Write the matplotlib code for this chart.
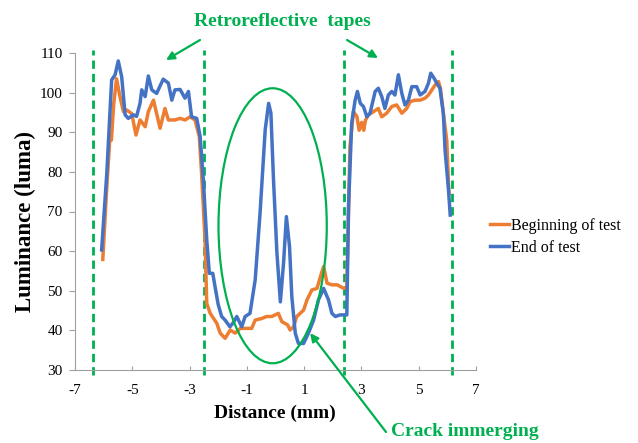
import matplotlib
matplotlib.use("Agg")
import matplotlib.pyplot as plt
from matplotlib.patches import Ellipse

plt.rcParams['font.family'] = ['Liberation Serif', 'DejaVu Serif']
plt.rcParams['axes.unicode_minus'] = False

# Beginning of test (orange)
begin_x = [-6.03, -5.90, -5.78, -5.73, -5.65, -5.55, -5.43, -5.31, -5.19, -5.02,
           -4.87, -4.73, -4.55, -4.44, -4.26, -4.15, -4.03, -3.86, -3.74, -3.51,
           -3.33, -3.16, -2.98, -2.81, -2.66, -2.58, -2.46, -2.40, -2.28, -2.05,
           -1.93, -1.76, -1.58, -1.41, -1.23, -1.00, -0.83, -0.71, -0.48, -0.31,
           -0.13, 0.10, 0.22, 0.42, 0.51, 0.63, 0.74, 0.98, 1.10, 1.27,
           1.45, 1.57, 1.68, 1.80, 1.97, 2.15, 2.38, 2.49, 2.60, 2.72,
           2.84, 2.92, 3.01, 3.08, 3.14, 3.24, 3.42, 3.59, 3.71, 3.88,
           4.06, 4.23, 4.41, 4.58, 4.70, 4.87, 5.05, 5.22, 5.34, 5.46,
           5.57, 5.69, 5.76, 5.86, 5.98, 6.04, 6.06]
begin_y = [57.9, 75.0, 88.9, 88.0, 97.0, 103.5, 99.0, 95.2, 95.6, 94.7,
           89.3, 93.1, 91.4, 95.2, 98.1, 94.7, 91.0, 96.0, 93.1, 93.1,
           93.5, 93.1, 93.9, 93.1, 88.9, 79.6, 62.8, 46.8, 44.3, 41.8,
           39.3, 38.0, 40.1, 39.3, 40.5, 40.5, 40.5, 42.6, 43.0, 43.5,
           43.5, 44.3, 42.2, 41.4, 40.1, 40.9, 43.5, 45.1, 47.7, 50.2,
           50.6, 53.6, 56.1, 51.9, 51.5, 51.5, 50.6, 51.0, 86.4, 95.2,
           94.0, 90.5, 92.5, 90.5, 93.0, 94.4, 95.2, 96.0, 93.9, 94.8,
           96.5, 96.9, 94.8, 96.0, 97.7, 98.1, 98.1, 98.6, 99.4, 100.7,
           101.9, 102.8, 101.0, 94.8, 87.9, 77.0, 74.5]

# End of test (blue)
end_x = [-6.07, -5.89, -5.78, -5.72, -5.60, -5.49, -5.37, -5.25, -5.14, -4.96,
         -4.85, -4.73, -4.67, -4.55, -4.44, -4.32, -4.15, -3.92, -3.74, -3.62,
         -3.51, -3.33, -3.16, -3.04, -2.93, -2.75, -2.63, -2.52, -2.40, -2.31,
         -2.19, -2.11, -2.00, -1.88, -1.76, -1.59, -1.47, -1.35, -1.18, -1.06,
         -0.89, -0.71, -0.54, -0.36, -0.24, -0.16, -0.07, 0.05, 0.17, 0.28,
         0.38, 0.49, 0.57, 0.69, 0.80, 0.98, 1.15, 1.33, 1.50, 1.68,
         1.85, 1.97, 2.09, 2.25, 2.38, 2.49, 2.55, 2.66, 2.78, 2.86,
         2.96, 3.07, 3.19, 3.30, 3.48, 3.59, 3.71, 3.82, 3.94, 4.06,
         4.17, 4.29, 4.41, 4.52, 4.64, 4.76, 4.93, 5.05, 5.22, 5.34,
         5.42, 5.54, 5.63, 5.74, 5.86, 5.92, 6.04, 6.10]
end_y = [60.3, 79.6, 95.0, 103.2, 104.5, 108.0, 104.0, 94.4, 93.5, 94.4,
         94.0, 97.3, 100.7, 99.0, 104.2, 100.7, 99.8, 103.4, 102.4, 98.1,
         100.7, 100.8, 98.6, 100.3, 93.9, 93.5, 88.9, 78.0, 62.8, 54.4,
         54.4, 51.0, 46.5, 43.5, 42.6, 40.9, 42.0, 43.5, 40.9, 43.5,
         44.3, 52.7, 69.5, 90.6, 97.3, 94.8, 78.0, 59.5, 47.2, 56.9,
         68.7, 61.1, 48.5, 39.3, 36.7, 36.7, 39.3, 42.6, 47.7, 50.6,
         47.7, 44.3, 43.5, 43.9, 43.9, 43.9, 71.2, 92.3, 98.1, 100.3,
         97.3, 96.5, 93.9, 94.8, 100.3, 101.1, 99.0, 96.0, 99.4, 100.3,
         99.4, 104.5, 99.8, 96.9, 98.1, 101.5, 101.5, 99.4, 100.3, 102.4,
         104.9, 103.6, 102.4, 101.1, 94.8, 85.5, 75.4, 69.1]

tape_edges = [-6.36, -2.49, 2.38, 6.15]
x_ticks = [-7, -5, -3, -1, 1, 3, 5, 7]
y_ticks = [30, 40, 50, 60, 70, 80, 90, 100, 110]

green = '#00B050'
orange = '#ED7D31'
blue = '#4472C4'

W, H = 638, 443
fig = plt.figure(figsize=(W / 100, H / 100), dpi=100)
ax = fig.add_axes([75 / W, 1 - 370 / H, (476 - 75) / W, (370 - 53) / H])

ax.plot(begin_x, begin_y, color=orange, lw=2.5, label='Beginning of test',
        solid_joinstyle='round')
ax.plot(end_x, end_y, color=blue, lw=2.5, label='End of test',
        solid_joinstyle='round')

for xe in tape_edges:
    ax.plot([xe, xe], [28.7, 110.8], color=green, lw=2, dashes=(3, 1.8),
            clip_on=False, zorder=1)

ax.set_xlim(-7, 7)
ax.set_ylim(30, 110)
ax.set_xticks(x_ticks)
ax.set_yticks(y_ticks)
ax.tick_params(axis='x', direction='in', length=3, pad=10, labelsize=11,
               color='#A0A0A0')
ax.tick_params(axis='y', direction='out', length=4, pad=5, labelsize=11,
               color='#A0A0A0')
for s in ['top', 'right']:
    ax.spines[s].set_visible(False)
for s in ['left', 'bottom']:
    ax.spines[s].set_color('#A0A0A0')
    ax.spines[s].set_linewidth(0.8)

fig.text(25 / W, 1 - 222 / H, 'Luminance (luma)', rotation=90, fontsize=16.5,
         fontweight='bold', ha='center', va='center')
fig.text(275 / W, 1 - 413 / H, 'Distance (mm)', fontsize=14,
         fontweight='bold', ha='center', va='center')

# ellipse around the crack
ax.add_patch(Ellipse((-0.1, 66.4), 3.78, 69.4, fill=False, edgecolor=green,
                     lw=1.6, clip_on=False, zorder=3))

# annotations
fig.text(282 / W, 1 - 22 / H, 'Retroreflective  tapes', color=green,
         fontsize=14, fontweight='bold', ha='center', va='center')
arrow = dict(arrowstyle='-|>', color=green, lw=1.6, mutation_scale=12,
             shrinkA=0, shrinkB=0)
ax.annotate('', xy=(166 / W, 1 - 60 / H), xytext=(200 / W, 1 - 40 / H),
            xycoords='figure fraction', textcoords='figure fraction',
            arrowprops=arrow)
ax.annotate('', xy=(378 / W, 1 - 58 / H), xytext=(347 / W, 1 - 40 / H),
            xycoords='figure fraction', textcoords='figure fraction',
            arrowprops=arrow)
ax.annotate('', xy=(1.21, 39.3), xytext=(386 / W, 1 - 432 / H),
            textcoords='figure fraction', arrowprops=arrow,
            annotation_clip=False)
fig.text(391 / W, 1 - 432 / H, 'Crack immerging', color=green, fontsize=14,
         fontweight='bold', ha='left', va='center')

ax.legend(loc='upper left', bbox_to_anchor=(490 / W, 1 - 218 / H),
          bbox_transform=fig.transFigure, frameon=False, fontsize=11.5,
          handlelength=1.2, handletextpad=0.1, borderpad=0, borderaxespad=0,
          labelspacing=0.35)

fig.savefig('out.png', dpi=100)
